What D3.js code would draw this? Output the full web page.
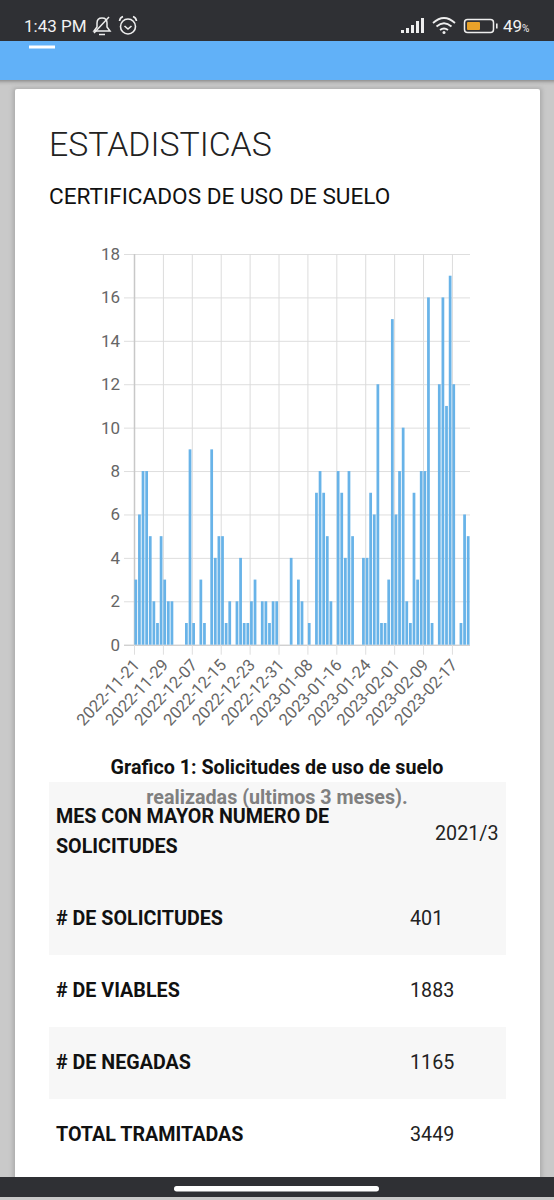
<!DOCTYPE html>
<html>
<head>
<meta charset="utf-8">
<script src="https://cdn.jsdelivr.net/npm/d3@7"></script>
<style>
  html, body { margin: 0; padding: 0; background: #c9c9c9; }
  svg { display: block; font-family: Roboto, sans-serif; }
</style>
</head>
<body>
<div id="chart"></div>
<script>
// one value per day, first day is startDate
const startDate = "2022-11-21";
const counts = [
  3, 6, 8, 8, 5, 2, 1, 5, 3, 2, 2, 0, 0, 0, 1, 9, 1, 0, 3, 1, 0,
  9, 4, 5, 5, 1, 2, 0, 2, 4, 1, 1, 2, 3, 0, 2, 2, 1, 2, 2, 0, 0, 0,
  4, 0, 3, 2, 0, 1, 0, 7, 8, 7, 5, 2, 0, 8, 7, 4, 8, 5, 0, 0,
  4, 4, 7, 6, 12, 1, 1, 3, 15, 6, 8, 10, 2, 1, 7, 3, 8, 8, 16, 1, 0,
  12, 16, 11, 17, 12, 0, 1, 6, 5
];
const yTicks = [0, 2, 4, 6, 8, 10, 12, 14, 16, 18];
const xTickLabels = [
  "2022-11-21", "2022-11-29", "2022-12-07", "2022-12-15", "2022-12-23", "2022-12-31",
  "2023-01-08", "2023-01-16", "2023-01-24", "2023-02-01", "2023-02-09", "2023-02-17"
];
const tableLabels = [
  ["MES CON MAYOR NUMERO DE", "SOLICITUDES"],
  ["# DE SOLICITUDES"],
  ["# DE VIABLES"],
  ["# DE NEGADAS"],
  ["TOTAL TRAMITADAS"]
];
const tableValues = ["2021/3", "401", "1883", "1165", "3449"];

const fmt = d3.utcFormat("%Y-%m-%d");
const days = d3.utcDay.range(new Date(startDate), d3.utcDay.offset(new Date(startDate), counts.length)).map(fmt);

const svg = d3.select("#chart").append("svg").attr("width", 554).attr("height", 1200);

// page background
svg.append("rect").attr("width", 554).attr("height", 1200).attr("fill", "#c9c9c9");

// card
const defs = svg.append("defs");
const blur = defs.append("filter").attr("id", "soft").attr("x", "-10%").attr("y", "-10%").attr("width", "120%").attr("height", "120%");
blur.append("feGaussianBlur").attr("stdDeviation", 2);
svg.append("rect").attr("x", 13).attr("y", 88).attr("width", 529).attr("height", 1095).attr("fill", "#aaa").attr("filter", "url(#soft)");
svg.append("rect").attr("x", 15).attr("y", 89).attr("width", 525).attr("height", 1095).attr("rx", 2).attr("fill", "#fff");

// app bar and status bar
svg.append("rect").attr("x", -10).attr("y", 40).attr("width", 574).attr("height", 41).attr("fill", "#777").attr("filter", "url(#soft)");
svg.append("rect").attr("y", 41).attr("width", 554).attr("height", 39).attr("fill", "#61b1f8");
svg.append("rect").attr("width", 554).attr("height", 41).attr("fill", "#2f3034");
svg.append("rect").attr("x", 29).attr("y", 45.5).attr("width", 26).attr("height", 3).attr("fill", "#fff");

svg.append("text").attr("x", 24).attr("y", 32).attr("fill", "#f2f2f2").attr("font-size", 17).text("1:43 PM");
// bell with slash
const bell = svg.append("g").attr("fill", "none").attr("stroke", "#eee").attr("stroke-width", 1.5);
bell.append("path").attr("d", "M94 31 L97 27 V23 Q97 18 102 18 Q107 18 107 23 V27 L110 31 Z");
bell.append("path").attr("d", "M99 34.5 H105");
bell.append("path").attr("d", "M94 33 L109 17");
// alarm clock
const clock = svg.append("g").attr("fill", "none").attr("stroke", "#eee").attr("stroke-width", 1.6);
clock.append("circle").attr("cx", 128).attr("cy", 26.5).attr("r", 7.5);
clock.append("path").attr("d", "M124.5 26 L128 29 L131.5 26");
clock.append("path").attr("d", "M119.5 21 Q120 17.5 123 16.5 M136.5 21 Q136 17.5 133 16.5");
// signal bars
svg.append("g").selectAll("rect").data([3, 5, 8, 12, 15]).join("rect")
  .attr("x", (d, i) => 401 + i * 5).attr("y", d => 33 - d).attr("width", 3).attr("height", d => d).attr("fill", "#eee");
// wifi
const wifi = svg.append("g").attr("fill", "none").attr("stroke", "#eee").attr("stroke-width", 1.8);
wifi.append("path").attr("d", "M433 23 Q444 13 455 23");
wifi.append("path").attr("d", "M436.5 26.5 Q444 20 451.5 26.5");
wifi.append("path").attr("d", "M440 30 Q444 27 448 30");
svg.append("circle").attr("cx", 444).attr("cy", 32.5).attr("r", 1.5).attr("fill", "#eee");
// battery
svg.append("rect").attr("x", 464.5).attr("y", 19.5).attr("width", 29).attr("height", 13).attr("rx", 3).attr("fill", "none").attr("stroke", "#eee").attr("stroke-width", 1.5);
svg.append("rect").attr("x", 467).attr("y", 22).attr("width", 13).attr("height", 8).attr("rx", 1).attr("fill", "#e8a22a");
svg.append("rect").attr("x", 496).attr("y", 23.5).attr("width", 1.6).attr("height", 5).attr("fill", "#eee");
const batt = svg.append("text").attr("x", 503).attr("y", 32).attr("fill", "#f2f2f2").attr("font-size", 17).text("49");
batt.append("tspan").attr("font-size", 10).text("%");

// nav bar
svg.append("rect").attr("y", 1177).attr("width", 554).attr("height", 20).attr("fill", "#2f3034");
svg.append("rect").attr("x", 174).attr("y", 1186).attr("width", 205).attr("height", 5.5).attr("rx", 2.7).attr("fill", "#fff");

// headings
svg.append("text").attr("x", 49).attr("y", 156).attr("font-size", 33.8).attr("font-weight", 300).attr("fill", "#222").text("ESTADISTICAS");
svg.append("text").attr("x", 49).attr("y", 204).attr("font-size", 22.6).attr("fill", "#111").text("CERTIFICADOS DE USO DE SUELO");

// chart
const plotLeft = 134, plotRight = 470, plotTop = 254, plotBottom = 644.7;
const x = d3.scaleBand().domain(days).range([plotLeft, plotRight]).paddingInner(0.24).paddingOuter(0.12);
// ticks sit on the left edge of each day, not on the bar centre
const xEdge = d3.scalePoint().domain(days).range([plotLeft, plotLeft + (plotRight - plotLeft) / days.length * (days.length - 1)]);
const y = d3.scaleLinear().domain([0, 18]).range([plotBottom, plotTop]);

const yAxis = d3.axisLeft(y).tickValues(yTicks).tickSize(10).tickPadding(4);
const yGrid = svg.append("g").attr("transform", `translate(${plotLeft},0)`).call(yAxis);
yGrid.select(".domain").remove();
yGrid.selectAll("line").attr("stroke", "#dedede").attr("stroke-width", 1);
yGrid.selectAll("text").attr("font-size", 17).attr("font-family", "Roboto").attr("fill", "#666");
yGrid.selectAll(".tick").append("line").attr("x2", plotRight - plotLeft).attr("stroke", "#dedede");
yGrid.selectAll(".tick").filter(d => d === 0).selectAll("line").attr("stroke", "#bdbdbd");

const xAxis = d3.axisBottom(xEdge).tickValues(xTickLabels).tickSize(10).tickPadding(1);
const xGrid = svg.append("g").attr("transform", `translate(0,${plotBottom})`).call(xAxis);
xGrid.select(".domain").remove();
xGrid.selectAll("line").attr("stroke", "#dedede");
xGrid.selectAll(".tick").append("line").attr("y1", plotTop - plotBottom).attr("y2", 0)
  .attr("stroke", (d, i) => i === 0 ? "#c8c8c8" : "#dcdcdc").attr("stroke-width", (d, i) => i === 0 ? 1.5 : 1);
xGrid.selectAll("text")
  .attr("font-size", 16.5).attr("font-family", "Roboto").attr("fill", "#666")
  .attr("text-anchor", "end").attr("y", 0).attr("dy", 0)
  .attr("transform", "translate(6,21) rotate(-47)");

svg.append("g").selectAll("rect").data(counts).join("rect")
  .attr("x", (d, i) => x(days[i]))
  .attr("y", d => y(d))
  .attr("width", x.bandwidth())
  .attr("height", d => plotBottom - y(d))
  .attr("fill", "#68b3e8");

// table stripes
const rowTops = [782, 882, 955, 1027, 1099];
const rowBottoms = [882, 955, 1027, 1099, 1171];
const rowFills = ["#f7f7f7", "#f7f7f7", "#fff", "#f7f7f7", "#fff"];
svg.append("g").selectAll("rect").data(tableValues).join("rect")
  .attr("x", 49).attr("width", 457)
  .attr("y", (d, i) => rowTops[i])
  .attr("height", (d, i) => rowBottoms[i] - rowTops[i])
  .attr("fill", (d, i) => rowFills[i]);

// caption
svg.append("text").attr("x", 277).attr("y", 774).attr("text-anchor", "middle").attr("font-size", 19.7).attr("font-weight", 700).attr("fill", "#111")
  .text("Grafico 1: Solicitudes de uso de suelo");
svg.append("text").attr("x", 277).attr("y", 804).attr("text-anchor", "middle").attr("font-size", 19.7).attr("font-weight", 700).attr("fill", "#808080")
  .text("realizadas (ultimos 3 meses).");

// table text
const labelY = [823, 925, 997, 1069, 1141];
const rows = svg.append("g").selectAll("g").data(tableLabels).join("g");
rows.each(function (lines, i) {
  d3.select(this).selectAll("text").data(lines).join("text")
    .attr("x", 56).attr("y", (d, j) => labelY[i] + j * 30)
    .attr("font-size", 19.7).attr("font-weight", 700).attr("fill", "#111").text(d => d);
});
svg.append("g").selectAll("text").data(tableValues).join("text")
  .attr("x", (d, i) => i === 0 ? 435 : 410)
  .attr("y", (d, i) => i === 0 ? 840 : labelY[i])
  .attr("font-size", 19.7).attr("fill", "#222").text(d => d);
</script>
</body>
</html>
